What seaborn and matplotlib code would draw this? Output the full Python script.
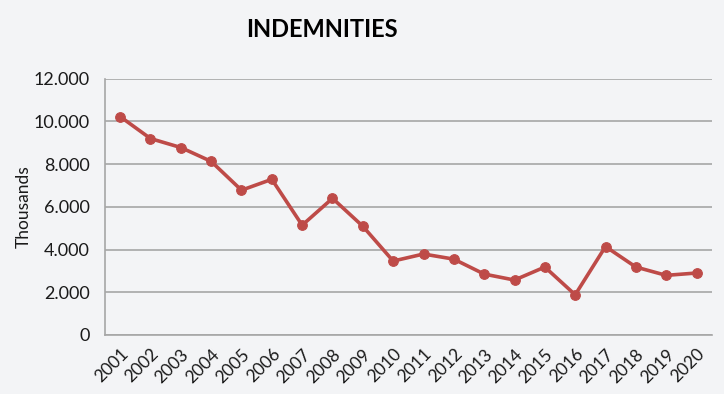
import numpy as np
import pandas as pd
import matplotlib
matplotlib.use("Agg")
import matplotlib.pyplot as plt
import seaborn as sns
from matplotlib.ticker import FuncFormatter, FixedLocator

# values (units: thousands)
years = list(range(2001, 2021))
indemnities = [10230, 9200, 8780, 8130, 6780, 7290, 5140, 6400, 5090, 3460,
               3790, 3550, 2850, 2570, 3180, 1880, 4140, 3180, 2790, 2900]
y_ticks = [0, 2000, 4000, 6000, 8000, 10000, 12000]

df = pd.DataFrame({"year": years, "value": indemnities})

sns.set_style("white")
plt.rcParams["font.family"] = ["Lato", "DejaVu Sans"]

bg = "#f3f4f6"
red = "#be4b48"
grey = "#a6a6a6"
txt = "#1a1a1a"

fig = plt.figure(figsize=(7.24, 3.94), dpi=100, facecolor=bg)
ax = fig.add_axes([0.145, 0.150, 0.838, 0.650])
ax.set_facecolor(bg)

sns.lineplot(data=df, x="year", y="value", ax=ax, color=red, linewidth=2.6,
             marker="o", markersize=7, markeredgecolor=red)

ax.set_xlim(years[0] - 0.5, years[-1] + 0.5)
ax.set_ylim(0, 12000)
ax.set_yticks(y_ticks)
ax.yaxis.set_major_formatter(FuncFormatter(lambda v, p: f"{int(v):,}".replace(",", ".")))
ax.grid(axis="y", color=grey, linewidth=1.2)
ax.set_axisbelow(True)

ax.set_xticks(years)
ax.set_xticklabels([str(y) for y in years], rotation=45, ha="right",
                   rotation_mode="anchor", fontsize=12.5, color=txt)
ax.xaxis.set_minor_locator(FixedLocator(np.arange(years[0] - 0.5, years[-1] + 1, 1)))
ax.tick_params(axis="x", which="major", length=0, pad=8)
ax.tick_params(axis="x", which="minor", length=5, color=grey, width=1.2)
ax.tick_params(axis="y", length=5, color=grey, width=1.2, labelsize=13,
               labelcolor=txt, pad=6)

for s in ["top", "right"]:
    ax.spines[s].set_visible(False)
for s in ["left", "bottom"]:
    ax.spines[s].set_color(grey)
    ax.spines[s].set_linewidth(1.2)

ax.set_xlabel("")
ax.set_ylabel("Thousands", fontsize=12.5, labelpad=1, color=txt)

fig.text(0.445, 0.925, "INDEMNITIES", ha="center", va="center",
         fontsize=17, fontweight="bold", color="black")

fig.savefig("out.png", dpi=100, facecolor=bg)
